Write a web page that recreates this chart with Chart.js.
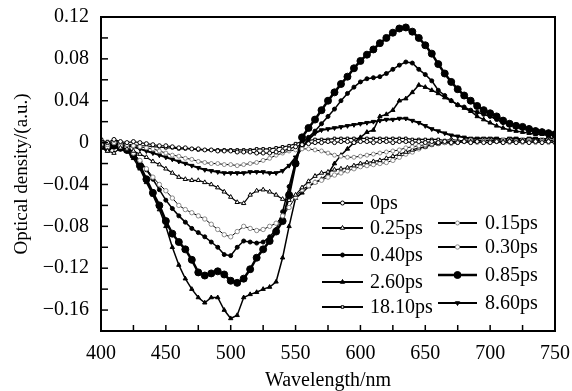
<!DOCTYPE html>
<html><head><meta charset="utf-8">
<script src="https://cdn.jsdelivr.net/npm/chart.js@4.4.0/dist/chart.umd.min.js"></script>
<style>html,body{margin:0;padding:0;background:#fff;}canvas{display:block;}</style>
</head><body>
<canvas id="c" width="572" height="391"></canvas>
<script>
const wavelengths = [400,405,410,415,420,425,430,435,440,445,450,455,460,465,470,475,480,485,490,495,
 500,505,510,515,520,525,530,535,540,545,550,555,560,565,570,575,580,585,590,595,
 600,605,610,615,620,625,630,635,640,645,650,655,660,665,670,675,680,685,690,695,
 700,705,710,715,720,725,730,735,740,745,750];

const od_0ps = [0.003,0.000,0.003,0.001,0.000,0.001,0.000,-0.001,-0.002,-0.003,
 -0.003,-0.004,-0.005,-0.005,-0.006,-0.006,-0.007,-0.007,-0.008,-0.008,
 -0.008,-0.009,-0.009,-0.009,-0.010,-0.010,-0.010,-0.009,-0.008,-0.006,
 -0.004,-0.002,-0.001,0.000,0.000,0.001,0.000,0.001,0.001,0.000,
 0.001,0.001,0.000,0.001,0.001,0.000,0.001,0.001,0.000,0.001,
 0.000,0.001,0.000,0.001,0.000,0.000,0.001,0.000,0.001,0.000,
 0.000,0.001,0.000,0.001,0.000,0.001,0.000,0.001,0.000,0.001,
 0.000];
const od_015ps = [0.002,-0.002,0.002,0.000,-0.002,-0.003,-0.004,-0.005,-0.006,-0.008,
 -0.010,-0.012,-0.013,-0.015,-0.016,-0.018,-0.019,-0.020,-0.020,-0.021,
 -0.021,-0.022,-0.021,-0.020,-0.019,-0.017,-0.015,-0.012,-0.010,-0.008,
 -0.007,-0.006,-0.006,-0.007,-0.008,-0.010,-0.012,-0.013,-0.014,-0.014,
 -0.013,-0.012,-0.011,-0.010,-0.009,-0.008,-0.007,-0.005,-0.004,-0.003,
 -0.002,-0.001,0.000,0.000,-0.001,0.000,0.001,0.000,0.000,0.001,
 0.000,0.001,0.000,0.000,0.001,0.000,0.001,0.000,0.001,0.000,
 0.001];
const od_025ps = [-0.004,-0.008,-0.010,-0.005,-0.006,-0.008,-0.011,-0.014,-0.018,-0.021,
 -0.025,-0.029,-0.033,-0.035,-0.036,-0.036,-0.038,-0.040,-0.043,-0.047,
 -0.052,-0.057,-0.058,-0.050,-0.046,-0.045,-0.047,-0.050,-0.054,-0.055,
 -0.050,-0.043,-0.037,-0.032,-0.029,-0.028,-0.026,-0.025,-0.024,-0.022,
 -0.020,-0.019,-0.018,-0.017,-0.015,-0.013,-0.011,-0.009,-0.007,-0.005,
 -0.004,-0.002,-0.001,0.000,0.001,0.001,0.002,0.001,0.002,0.002,
 0.002,0.002,0.001,0.002,0.002,0.002,0.001,0.002,0.002,0.002,
 0.002];
const od_030ps = [-0.002,-0.004,0.000,-0.003,-0.005,-0.010,-0.017,-0.025,-0.033,-0.040,
 -0.046,-0.053,-0.060,-0.064,-0.067,-0.070,-0.073,-0.078,-0.083,-0.088,
 -0.090,-0.085,-0.080,-0.082,-0.084,-0.083,-0.080,-0.077,-0.070,-0.062,
 -0.052,-0.045,-0.041,-0.038,-0.036,-0.033,-0.031,-0.029,-0.027,-0.025,
 -0.023,-0.022,-0.021,-0.020,-0.019,-0.017,-0.014,-0.011,-0.009,-0.006,
 -0.004,-0.002,-0.001,0.000,0.001,0.001,0.001,0.002,0.001,0.002,
 0.002,0.001,0.002,0.002,0.001,0.002,0.002,0.001,0.002,0.002,
 0.002];
const od_040ps = [-0.004,-0.007,-0.003,-0.006,-0.008,-0.012,-0.018,-0.026,-0.035,-0.045,
 -0.055,-0.063,-0.070,-0.076,-0.082,-0.086,-0.090,-0.095,-0.100,-0.107,
 -0.108,-0.100,-0.094,-0.095,-0.096,-0.095,-0.090,-0.083,-0.066,-0.042,
 -0.018,0.000,0.005,0.011,0.018,0.025,0.032,0.040,0.047,0.053,
 0.058,0.061,0.062,0.063,0.066,0.070,0.074,0.077,0.076,0.070,
 0.065,0.059,0.050,0.045,0.040,0.036,0.034,0.031,0.029,0.027,
 0.025,0.022,0.019,0.017,0.016,0.015,0.014,0.012,0.011,0.010,
 0.009];
const od_085ps = [-0.003,-0.005,-0.003,-0.005,-0.007,-0.012,-0.022,-0.035,-0.048,-0.060,
 -0.075,-0.087,-0.095,-0.102,-0.112,-0.124,-0.127,-0.125,-0.123,-0.126,
 -0.132,-0.134,-0.130,-0.121,-0.110,-0.102,-0.094,-0.085,-0.075,-0.050,
 -0.020,0.005,0.014,0.022,0.031,0.040,0.048,0.056,0.063,0.071,
 0.078,0.084,0.089,0.095,0.100,0.105,0.109,0.110,0.106,0.100,
 0.093,0.085,0.075,0.066,0.058,0.051,0.045,0.040,0.035,0.031,
 0.028,0.025,0.021,0.018,0.016,0.015,0.013,0.011,0.010,0.009,
 0.008];
const od_260ps = [-0.005,-0.008,-0.004,-0.006,-0.008,-0.015,-0.025,-0.038,-0.050,-0.064,
 -0.080,-0.100,-0.117,-0.130,-0.140,-0.148,-0.153,-0.148,-0.148,-0.160,
 -0.168,-0.165,-0.148,-0.145,-0.143,-0.140,-0.138,-0.133,-0.110,-0.080,
 -0.053,-0.048,-0.042,-0.038,-0.035,-0.030,-0.020,-0.012,-0.006,0.000,
 0.005,0.010,0.012,0.025,0.027,0.031,0.040,0.042,0.048,0.055,
 0.053,0.050,0.047,0.043,0.040,0.036,0.033,0.030,0.025,0.022,
 0.019,0.016,0.014,0.012,0.011,0.010,0.009,0.008,0.008,0.007,
 0.007];
const od_860ps = [0.000,-0.003,0.001,-0.002,-0.003,-0.004,-0.006,-0.008,-0.010,-0.012,
 -0.014,-0.016,-0.018,-0.020,-0.022,-0.024,-0.026,-0.027,-0.028,-0.029,
 -0.029,-0.029,-0.029,-0.028,-0.028,-0.028,-0.029,-0.029,-0.027,-0.022,
 -0.014,-0.005,0.003,0.009,0.012,0.013,0.014,0.015,0.016,0.017,
 0.018,0.019,0.020,0.021,0.022,0.022,0.023,0.023,0.021,0.019,
 0.016,0.013,0.011,0.009,0.007,0.006,0.005,0.004,0.004,0.004,
 0.004,0.004,0.003,0.004,0.004,0.003,0.004,0.004,0.003,0.004,
 0.004];
const od_1810ps = [-0.002,0.001,-0.003,0.000,-0.002,-0.002,-0.003,-0.003,-0.004,-0.004,
 -0.005,-0.005,-0.006,-0.006,-0.006,-0.007,-0.007,-0.007,-0.007,-0.007,
 -0.007,-0.007,-0.007,-0.007,-0.006,-0.006,-0.006,-0.005,-0.004,-0.003,
 -0.001,0.001,0.002,0.003,0.003,0.003,0.004,0.004,0.004,0.004,
 0.004,0.004,0.004,0.004,0.004,0.004,0.004,0.004,0.003,0.003,
 0.003,0.003,0.003,0.002,0.003,0.002,0.002,0.003,0.002,0.002,
 0.002,0.003,0.002,0.002,0.003,0.002,0.002,0.003,0.002,0.002,
 0.002];

const seriesLabels = ['0ps','0.15ps','0.25ps','0.30ps','0.40ps','0.85ps','2.60ps','8.60ps','18.10ps'];
const seriesValues = [od_0ps,od_015ps,od_025ps,od_030ps,od_040ps,od_085ps,od_260ps,od_860ps,od_1810ps];
const xLabelValues = [400,450,500,550,600,650,700,750];
const yLabelValues = [0.12,0.08,0.04,0,-0.04,-0.08,-0.12,-0.16];

const GRAY = '#8a8a8a';
const styles = [
 {pointStyle:'circle', r:2, fill:'#fff', pb:'#000', lw:1.2},
 {pointStyle:'circle', r:2, fill:'#fff', pb:GRAY, lw:1},
 {pointStyle:'triangle', r:2.5, fill:'#fff', pb:'#000', lw:1.2},
 {pointStyle:'circle', r:2.2, fill:'#fff', pb:GRAY, lw:1},
 {pointStyle:'circle', r:2, fill:'#000', pb:'#000', lw:1.5},
 {pointStyle:'circle', r:3.5, fill:'#000', pb:'#000', lw:2.5},
 {pointStyle:'triangle', r:2.5, fill:'#000', pb:'#000', lw:1.5},
 {pointStyle:'triangle', r:2.5, fill:'#000', pb:'#000', lw:2, rot:180},
 {pointStyle:'rect', r:1.8, fill:'#fff', pb:'#000', lw:1.2}
];

const datasets = seriesLabels.map((lab,i)=>({
  label: lab,
  data: wavelengths.map((w,j)=>({x:w, y:seriesValues[i][j]})),
  borderColor:'#000', borderWidth: styles[i].lw,
  pointStyle: styles[i].pointStyle, pointRadius: styles[i].r,
  pointRotation: styles[i].rot || 0,
  pointBackgroundColor: styles[i].fill, pointBorderColor: styles[i].pb,
  pointBorderWidth: 1, tension: 0, fill:false
}));

const FONT = "'Liberation Serif','Times New Roman',serif";
const legendLeft = [[0,203],[2,228],[4,255],[6,282],[8,307]];
const legendRight = [[1,223],[3,247],[5,275],[7,303]];

const decor = {
  id:'decor',
  afterDatasetsDraw(chart){
    const {ctx, chartArea:a, scales:{x,y}} = chart;
    ctx.save();
    ctx.strokeStyle='#000'; ctx.lineWidth=1.5;
    x.ticks.forEach(t=>{const px=x.getPixelForValue(t.value);ctx.beginPath();ctx.moveTo(px,a.bottom);ctx.lineTo(px,a.bottom-6);ctx.stroke();});
    y.ticks.forEach(t=>{const py=y.getPixelForValue(t.value);ctx.beginPath();ctx.moveTo(a.left,py);ctx.lineTo(a.left+7,py);ctx.stroke();});
    ctx.lineWidth=2;
    ctx.strokeRect(a.left,a.top,a.right-a.left,a.bottom-a.top);
    const drawEntry=(idx,x1,x2,tx,yy)=>{
      const s=styles[idx];
      ctx.strokeStyle='#000'; ctx.lineWidth=Math.max(2,s.lw);
      ctx.beginPath();ctx.moveTo(x1,yy);ctx.lineTo(x2,yy);ctx.stroke();
      ctx.fillStyle=s.fill; ctx.strokeStyle=s.pb; ctx.lineWidth=1;
      Chart.helpers.drawPoint(ctx,{pointStyle:s.pointStyle,radius:s.r,rotation:s.rot||0,borderWidth:1},(x1+x2)/2,yy);
      ctx.fillStyle='#000'; ctx.font='20px '+FONT; ctx.textBaseline='middle'; ctx.textAlign='left';
      ctx.fillText(seriesLabels[idx],tx,yy+1);
    };
    legendLeft.forEach(([i,yy])=>drawEntry(i,322,363,370,yy));
    legendRight.forEach(([i,yy])=>drawEntry(i,438,477,485,yy));
    ctx.restore();
  }
};

const fmtY = v=>{const k=Math.round(v*100);const hit=yLabelValues.some(l=>Math.round(l*100)===k);if(!hit)return '';if(k===0)return '0';return (k<0?'\u2212':'')+(Math.abs(k)/100).toFixed(2);};
const fmtX = v=>xLabelValues.includes(Math.round(v))?String(Math.round(v)):'';

new Chart(document.getElementById('c'),{
  type:'line',
  data:{datasets},
  options:{
    responsive:false, animation:false,
    layout:{padding:{left:0,right:17,top:17,bottom:0}},
    plugins:{legend:{display:false},tooltip:{enabled:false}},
    scales:{
      x:{type:'linear',min:400,max:750,
        grid:{display:false,drawTicks:false},border:{display:false},
        ticks:{stepSize:25,autoSkip:false,maxRotation:0,padding:11,color:'#000',font:{family:FONT,size:20},callback:fmtX},
        title:{display:true,text:'Wavelength/nm',color:'#000',font:{family:FONT,size:20,lineHeight:1},padding:{top:0,bottom:0}},
        afterFit(s){s.height=60;s.paddingLeft=0;s.paddingRight=0;}
      },
      y:{type:'linear',min:-0.18,max:0.12,
        grid:{display:false,drawTicks:false},border:{display:false},
        ticks:{stepSize:0.02,autoSkip:false,padding:12,color:'#000',font:{family:FONT,size:20},callback:fmtY},
        title:{display:true,text:'Optical density/(a.u.)',color:'#000',font:{family:FONT,size:19,lineHeight:1.2},padding:{top:11,bottom:0}},
        afterFit(s){s.width=101;s.paddingTop=0;s.paddingBottom=0;}
      }
    }
  },
  plugins:[decor]
});
</script>
</body></html>
